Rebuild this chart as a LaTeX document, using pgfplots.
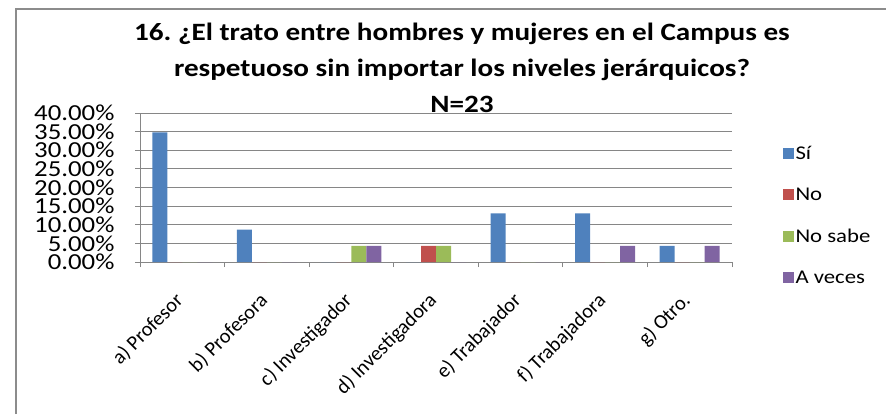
\documentclass[border=0pt]{standalone}
\usepackage{graphicx}
\usepackage{pgfplots}
\pgfplotsset{compat=1.18}
\usepackage{fontspec}
\setmainfont{Carlito}
\frenchspacing
\newcommand{\hs}[1]{\scalebox{1.17}[1]{#1}}
\definecolor{cSi}{HTML}{4F81BD}
\definecolor{cNo}{HTML}{C0504D}
\definecolor{cNS}{HTML}{9BBB59}
\definecolor{cAV}{HTML}{8064A2}
\definecolor{gridc}{HTML}{868686}
\definecolor{borderc}{HTML}{8C8C8C}
\begin{document}
\begin{tikzpicture}[x=1bp,y=1bp]
\useasboundingbox (0,0) rectangle (886,414);
\draw[borderc, line width=2bp] (15.5,0) -- (15.5,405) -- (886,405);
\node[inner sep=0pt] at (462,345) {\fontsize{25}{36}\selectfont\bfseries\hs{\begin{tabular}{@{}c@{}}16. ¿El trato entre hombres y mujeres en el Campus es\\respetuoso sin importar los niveles jerárquicos?\\N=23\end{tabular}}};
\begin{axis}[
  at={(140bp,152bp)}, anchor=south west,
  scale only axis, width=592bp, height=149bp,
  ybar=0pt, bar width=15bp,
  xmin=-0.5, xmax=6.5, ymin=0, ymax=40,
  axis x line*=bottom, axis y line*=left,
  axis line style={gridc, line width=1bp},
  ymajorgrids, grid style={gridc, line width=1bp},
  ytick={0,5,...,40},
  yticklabels={\hs{0.00\%},\hs{5.00\%},\hs{10.00\%},\hs{15.00\%},\hs{20.00\%},\hs{25.00\%},\hs{30.00\%},\hs{35.00\%},\hs{40.00\%}},
  yticklabel style={font=\fontsize{23}{23}\selectfont, xshift=-17bp},
  xtick={0,...,6},
  xticklabels={a) Profesor, b) Profesora, c) Investigador, d) Investigadora, e) Trabajador, f) Trabajadora, g) Otro.},
  xticklabel style={font=\fontsize{20.5}{20.5}\selectfont, rotate=45, anchor=east},
  xticklabel shift=28bp,
  minor xtick={-0.5,0.5,...,6.5},
  tick align=outside,
  major tick length=5bp, minor tick length=5bp,
  tick style={gridc, line width=1bp},
  major x tick style={draw=none},
  legend image code/.code={\fill (0bp,-5.5bp) rectangle (11bp,5.5bp);},
  legend style={draw=none, fill=none, at={(1.08,0.312)}, anchor=west,
    font=\fontsize{19.5}{19.5}\selectfont, row sep=23.1bp},
  legend cell align=left,
]
\addplot[fill=cSi, draw=none] coordinates {(0,34.78) (1,8.70) (2,0) (3,0) (4,13.04) (5,13.04) (6,4.35)};
\addplot[fill=cNo, draw=none] coordinates {(0,0) (1,0) (2,0) (3,4.35) (4,0) (5,0) (6,0)};
\addplot[fill=cNS, draw=none] coordinates {(0,0) (1,0) (2,4.35) (3,4.35) (4,0) (5,0) (6,0)};
\addplot[fill=cAV, draw=none] coordinates {(0,0) (1,0) (2,4.35) (3,0) (4,0) (5,4.35) (6,4.35)};
\legend{\hs{Sí}, \hs{No}, \hs{No sabe}, \hs{A veces}}
\end{axis}
\end{tikzpicture}
\end{document}
